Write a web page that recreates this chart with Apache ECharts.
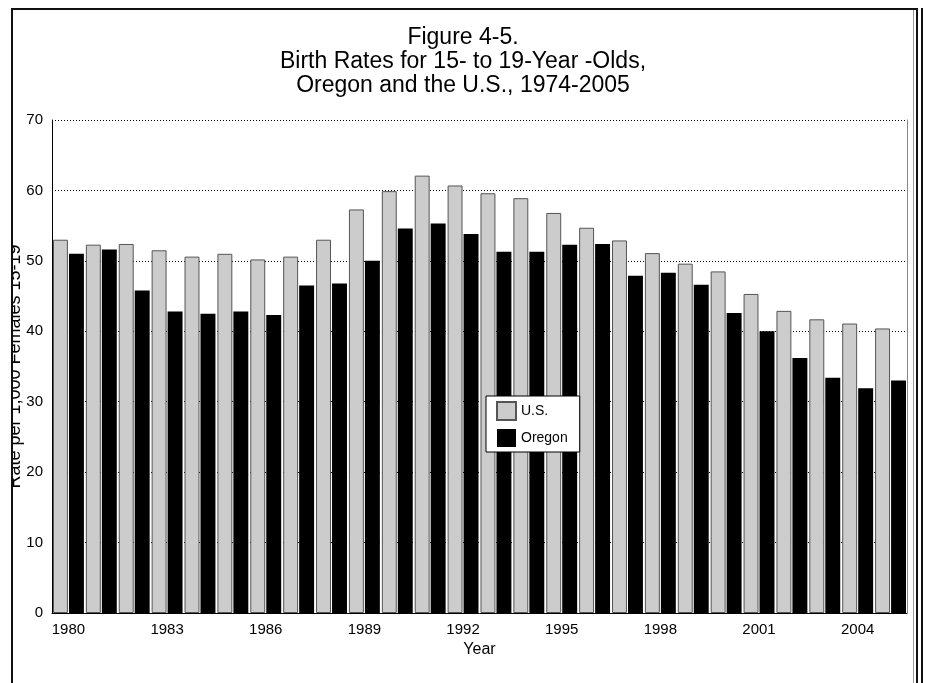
<!DOCTYPE html>
<html>
<head>
<meta charset="utf-8">
<script src="https://cdn.jsdelivr.net/npm/echarts@6/dist/echarts.min.js"></script>
<style>
  html, body { margin: 0; padding: 0; background: #fff; }
  #chart { width: 926px; height: 683px; }
</style>
</head>
<body>
<div id="chart"></div>
<script>
const years = ['1980', '1981', '1982', '1983', '1984', '1985', '1986', '1987', '1988', '1989',
  '1990', '1991', '1992', '1993', '1994', '1995', '1996', '1997', '1998', '1999',
  '2000', '2001', '2002', '2003', '2004', '2005']
const usRates = [53.0, 52.3, 52.4, 51.5, 50.6, 51.0, 50.2, 50.6, 53.0, 57.3,
  59.9, 62.1, 60.7, 59.6, 58.9, 56.8, 54.7, 52.9, 51.1, 49.6,
  48.5, 45.3, 42.9, 41.7, 41.1, 40.4]
const oregonRates = [51.0, 51.6, 45.8, 42.8, 42.5, 42.8, 42.3, 46.5, 46.8, 50.0,
  54.6, 55.3, 53.8, 51.3, 51.3, 52.3, 52.4, 47.9, 48.3, 46.6,
  42.6, 40.0, 36.2, 33.4, 31.9, 33.0]
const yTicks = [0, 10, 20, 30, 40, 50, 60, 70]

const font = 'Liberation Sans, Arial, sans-serif'
const chart = echarts.init(document.getElementById('chart'))

chart.setOption({
  animation: false,
  backgroundColor: '#fff',
  textStyle: { fontFamily: font },
  title: {
    text: 'Figure 4-5.\nBirth Rates for 15- to 19-Year -Olds,\nOregon and the U.S., 1974-2005',
    left: 'center',
    top: 21,
    textStyle: {
      fontFamily: font,
      fontSize: 23,
      fontWeight: 'normal',
      color: '#000',
      lineHeight: 24,
      align: 'center',
    },
  },
  legend: {
    orient: 'vertical',
    left: 486,
    top: 396,
    padding: [5, 12, 5, 10],
    itemGap: 8,
    itemWidth: 19,
    itemHeight: 18,
    itemTextGap: 9,
    icon: 'rect',
    backgroundColor: '#fff',
    borderColor: '#000',
    borderWidth: 1,
    textStyle: { fontFamily: font, fontSize: 14, color: '#000' },
    data: ['U.S.', 'Oregon'],
  },
  grid: {
    left: 52,
    right: 19,
    top: 120,
    bottom: 70,
    outerBoundsMode: 'none',
    containLabel: false,
  },
  xAxis: {
    type: 'category',
    data: years,
    name: 'Year',
    nameLocation: 'middle',
    nameGap: 28,
    nameTextStyle: { fontFamily: font, fontSize: 16, color: '#000' },
    axisLine: { lineStyle: { color: '#000', width: 1 } },
    axisTick: { show: false },
    axisLabel: {
      interval: 2,
      margin: 9,
      fontFamily: font,
      fontSize: 15,
      color: '#000',
    },
  },
  yAxis: [
    {
      type: 'value',
      min: yTicks[0],
      max: yTicks[yTicks.length - 1],
      interval: 10,
      name: 'Rate per 1,000 Females 15-19',
      nameLocation: 'middle',
      nameGap: 28,
      nameMoveOverlap: false,
      nameTextStyle: { fontFamily: font, fontSize: 18, color: '#000' },
      axisLine: { show: true, lineStyle: { color: '#000', width: 1 } },
      axisTick: { show: false },
      axisLabel: { margin: 9, fontFamily: font, fontSize: 15, color: '#000' },
      splitLine: {
        show: true,
        lineStyle: { color: '#000', width: 1, type: [1, 2] },
      },
    },
    {
      type: 'value',
      position: 'right',
      min: yTicks[0],
      max: yTicks[yTicks.length - 1],
      interval: 10,
      axisLine: { show: true, lineStyle: { color: '#888', width: 1 } },
      axisTick: { show: false },
      axisLabel: { show: false },
      splitLine: { show: false },
    },
  ],
  series: [
    {
      name: 'U.S.',
      type: 'bar',
      data: usRates,
      barGap: '7%',
      barCategoryGap: '6%',
      itemStyle: { color: '#cccccc', borderColor: '#555', borderWidth: 1 },
    },
    {
      name: 'Oregon',
      type: 'bar',
      data: oregonRates,
      itemStyle: { color: '#000' },
    },
  ],
  graphic: [
    // white margin clipping the axis title, then the outer frame
    { type: 'rect', z: 100, shape: { x: 0, y: 0, width: 11, height: 683 }, style: { fill: '#fff' } },
    { type: 'rect', z: 101, shape: { x: 11, y: 8, width: 2, height: 675 }, style: { fill: '#111' } },
    { type: 'rect', z: 101, shape: { x: 11, y: 8, width: 906, height: 2 }, style: { fill: '#111' } },
    { type: 'rect', z: 101, shape: { x: 913, y: 10, width: 1, height: 673 }, style: { fill: '#999' } },
    { type: 'rect', z: 101, shape: { x: 916, y: 8, width: 2, height: 675 }, style: { fill: '#111' } },
    { type: 'rect', z: 101, shape: { x: 921, y: 8, width: 2, height: 675 }, style: { fill: '#111' } },
  ],
})
</script>
</body>
</html>
